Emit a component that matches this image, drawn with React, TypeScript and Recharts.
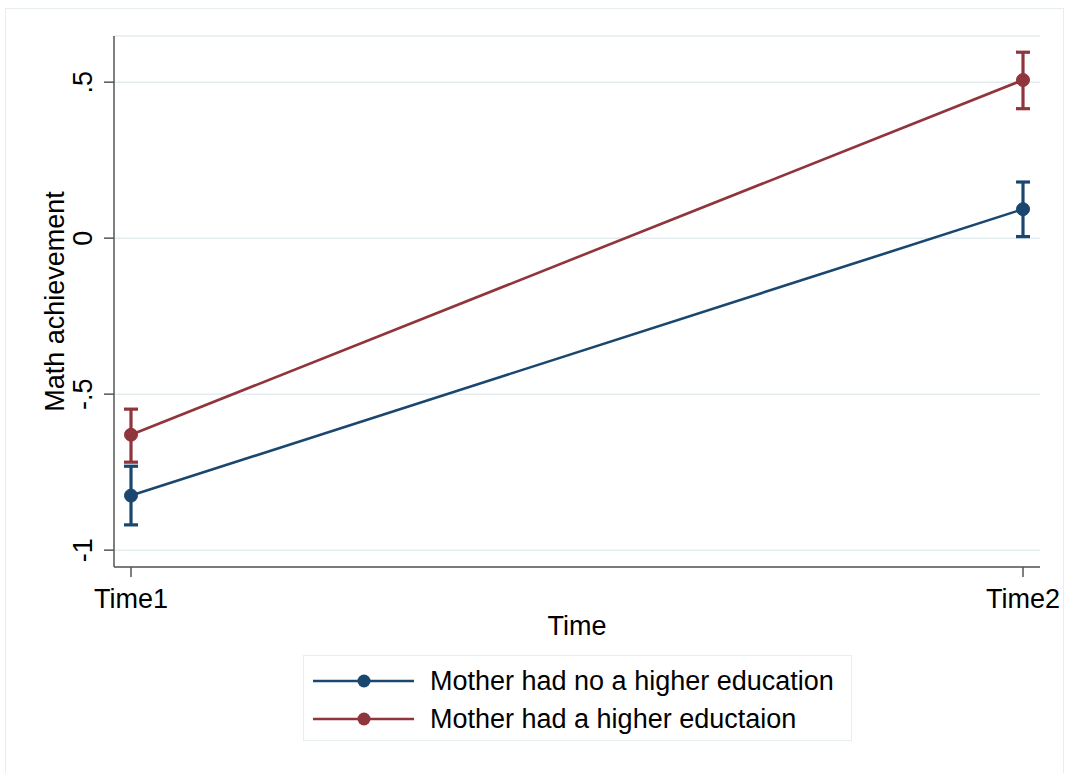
import React from "react";
import {
  ComposedChart,
  Line,
  XAxis,
  YAxis,
  CartesianGrid,
  ErrorBar,
  Legend,
} from "recharts";

const categories = ["Time1", "Time2"];
const noHigherMean = [-0.825, 0.093];
const noHigherLow = [-0.919, 0.005];
const noHigherHigh = [-0.731, 0.18];
const higherMean = [-0.63, 0.507];
const higherLow = [-0.718, 0.415];
const higherHigh = [-0.548, 0.596];
const yTicks = [-1, -0.5, 0, 0.5];
const yTickLabels = ["-1", "-.5", "0", ".5"];
const seriesNames = [
  "Mother had no a higher education",
  "Mother had a higher eductaion",
];
const BLUE = "#1a476f";
const RED = "#90353b";
const FONT = "'Liberation Sans', Arial, Helvetica, sans-serif";
const FS = 27;

const data = categories.map((c, i) => ({
  time: c,
  noHigher: noHigherMean[i],
  noHigherErr: [noHigherMean[i] - noHigherLow[i], noHigherHigh[i] - noHigherMean[i]],
  higher: higherMean[i],
  higherErr: [higherMean[i] - higherLow[i], higherHigh[i] - higherMean[i]],
}));

const XTick = (props: any) => {
  const { x, y, payload } = props;
  return (
    <text x={x} y={y + 31} textAnchor="middle" fontFamily={FONT} fontSize={FS} fill="#000">
      {payload.value}
    </text>
  );
};

const YTick = (props: any) => {
  const { x, y, payload } = props;
  const idx = yTicks.indexOf(payload.value);
  const label = idx >= 0 ? yTickLabels[idx] : String(payload.value);
  const bx = x - 12;
  return (
    <text
      x={bx}
      y={y}
      transform={`rotate(-90, ${bx}, ${y})`}
      textAnchor="middle"
      fontFamily={FONT}
      fontSize={FS}
      fill="#000"
    >
      {label}
    </text>
  );
};

const XLabel = (props: any) => {
  const { viewBox } = props;
  const cx = viewBox.x + viewBox.width / 2;
  return (
    <text x={cx} y={viewBox.y + 68} textAnchor="middle" fontFamily={FONT} fontSize={FS} fill="#000">
      Time
    </text>
  );
};

const YLabel = (props: any) => {
  const { viewBox } = props;
  const cy = viewBox.y + viewBox.height / 2;
  const bx = 64;
  return (
    <text
      x={bx}
      y={cy}
      transform={`rotate(-90, ${bx}, ${cy})`}
      textAnchor="middle"
      fontFamily={FONT}
      fontSize={FS}
      fill="#000"
    >
      Math achievement
    </text>
  );
};

const LegendBox = () => {
  const colors = [BLUE, RED];
  return (
    <div
      style={{
        boxSizing: "border-box",
        width: 549,
        height: 86,
        border: "1.5px solid #e6eef1",
        background: "#fff",
        position: "relative",
      }}
    >
      {seriesNames.map((name, i) => (
        <div
          key={name}
          style={{
            position: "absolute",
            left: 0,
            top: 6 + i * 38,
            height: 38,
            display: "flex",
            alignItems: "center",
          }}
        >
          <svg width={120} height={38} style={{ display: "block" }}>
            <line x1={9} y1={19} x2={110} y2={19} stroke={colors[i]} strokeWidth={2.5} />
            <circle cx={60} cy={19} r={6.5} fill={colors[i]} />
          </svg>
          <span
            style={{
              fontFamily: FONT,
              fontSize: FS,
              color: "#000",
              marginLeft: 6,
              whiteSpace: "nowrap",
              lineHeight: "38px",
            }}
          >
            {name}
          </span>
        </div>
      ))}
    </div>
  );
};

export default function App() {
  return (
    <div
      style={{
        position: "absolute",
        left: 0,
        top: 0,
        width: 1066,
        height: 773,
        background: "#fff",
        overflow: "hidden",
      }}
    >
      <div
        style={{
          position: "absolute",
          left: 5,
          top: 8,
          width: 1059,
          height: 770,
          border: "1.5px solid #e6eef1",
          boxSizing: "border-box",
        }}
      />
      <div style={{ position: "absolute", left: 0, top: 0 }}>
        <ComposedChart
          width={1066}
          height={773}
          data={data}
          margin={{ top: 36, right: 26, left: 0, bottom: 0 }}
        >
          <CartesianGrid
            horizontal={true}
            vertical={false}
            stroke="#e3edf0"
            strokeWidth={1.5}
          />
          <XAxis
            dataKey="time"
            type="category"
            scale="point"
            padding={{ left: 17, right: 17 }}
            height={206}
            tickSize={10}
            tickMargin={0}
            tick={<XTick />}
            axisLine={{ stroke: "#555", strokeWidth: 1.5 }}
            tickLine={{ stroke: "#555", strokeWidth: 1.5 }}
            label={<XLabel />}
          />
          <YAxis
            type="number"
            domain={[-1.054, 0.648]}
            allowDataOverflow={true}
            ticks={yTicks}
            width={114}
            tickSize={10}
            tickMargin={0}
            tick={<YTick />}
            axisLine={{ stroke: "#555", strokeWidth: 1.5 }}
            tickLine={{ stroke: "#555", strokeWidth: 1.5 }}
            label={<YLabel />}
          />
          <Legend
            layout="horizontal"
            verticalAlign="middle"
            align="center"
            wrapperStyle={{ left: 303, top: 655, width: 549, height: 86 }}
            content={<LegendBox />}
          />
          <Line
            dataKey="noHigher"
            name={seriesNames[0]}
            stroke={BLUE}
            strokeWidth={2.6}
            dot={{ r: 6.5, fill: BLUE, stroke: BLUE, strokeWidth: 1 }}
            isAnimationActive={false}
          >
            <ErrorBar dataKey="noHigherErr" direction="y" width={7} strokeWidth={3.2} stroke={BLUE} />
          </Line>
          <Line
            dataKey="higher"
            name={seriesNames[1]}
            stroke={RED}
            strokeWidth={2.6}
            dot={{ r: 6.5, fill: RED, stroke: RED, strokeWidth: 1 }}
            isAnimationActive={false}
          >
            <ErrorBar dataKey="higherErr" direction="y" width={7} strokeWidth={3.2} stroke={RED} />
          </Line>
        </ComposedChart>
      </div>
    </div>
  );
}
